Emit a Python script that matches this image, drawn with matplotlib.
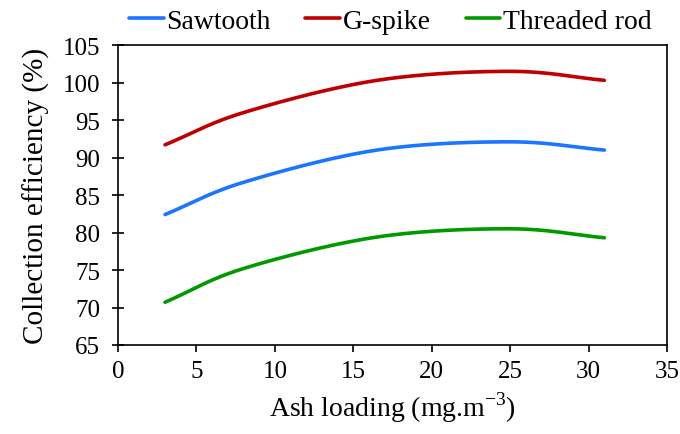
import matplotlib
matplotlib.use("Agg")
import matplotlib.pyplot as plt
import numpy as np

# data
ash = [3, 8, 16.5, 25, 31]
sawtooth = [82.4, 86.7, 91.0, 92.1, 91.0]
gspike = [91.7, 96.0, 100.3, 101.5, 100.3]
threaded = [70.7, 75.2, 79.4, 80.5, 79.3]

names = ["Sawtooth", "G-spike", "Threaded rod"]
colors = ["#1a75ff", "#c00000", "#009a00"]


def smooth(x, y, n=40):
    # Catmull-Rom style smoothing like Excel's smoothed lines
    x = np.asarray(x, float)
    y = np.asarray(y, float)
    px = np.concatenate([[2 * x[0] - x[1]], x, [2 * x[-1] - x[-2]]])
    py = np.concatenate([[2 * y[0] - y[1]], y, [2 * y[-1] - y[-2]]])
    xs, ys = [], []
    t = np.linspace(0, 1, n)
    for i in range(1, len(px) - 2):
        p0, p1, p2, p3 = [np.array([px[j], py[j]]) for j in range(i - 1, i + 3)]
        c1 = p1 + (p2 - p0) / 6
        c2 = p2 - (p3 - p1) / 6
        pts = ((1 - t) ** 3)[:, None] * p1 + (3 * (1 - t) ** 2 * t)[:, None] * c1 \
            + (3 * (1 - t) * t ** 2)[:, None] * c2 + (t ** 3)[:, None] * p2
        xs.extend(pts[:, 0])
        ys.extend(pts[:, 1])
    return xs, ys


plt.rcParams['font.family'] = ['Liberation Serif', 'DejaVu Serif']

fig = plt.figure(figsize=(6.8, 4.35), dpi=100)
ax = fig.add_axes([0.1735, 0.2046, 0.8075, 0.6894])

for ys, name, c in zip([sawtooth, gspike, threaded], names, colors):
    sx, sy = smooth(ash, ys)
    ax.plot(sx, sy, color=c, lw=2.6, label=name, solid_capstyle='round')

ax.set_xlim(0, 35)
ax.set_ylim(65, 105)
ax.set_xticks(range(0, 36, 5))
ax.set_yticks(range(65, 106, 5))
ax.tick_params(axis='x', direction='out', length=5, width=1.2, labelsize=18, pad=6)
ax.tick_params(axis='y', direction='inout', length=8, width=1.2, labelsize=18, pad=9)
for s in ax.spines.values():
    s.set_linewidth(1.2)

ax.set_xlabel("Ash loading (mg.m$^{\\mathregular{-3}}$)", fontsize=20, labelpad=5)
ax.set_ylabel("Collection efficiency (%)", fontsize=21, labelpad=9)

fig.legend(loc='upper center', bbox_to_anchor=(0.574, 1.035), ncol=3, frameon=False,
           fontsize=20, handlelength=1.25, handletextpad=0.1, columnspacing=1.25)

fig.savefig("out.png", dpi=100)
